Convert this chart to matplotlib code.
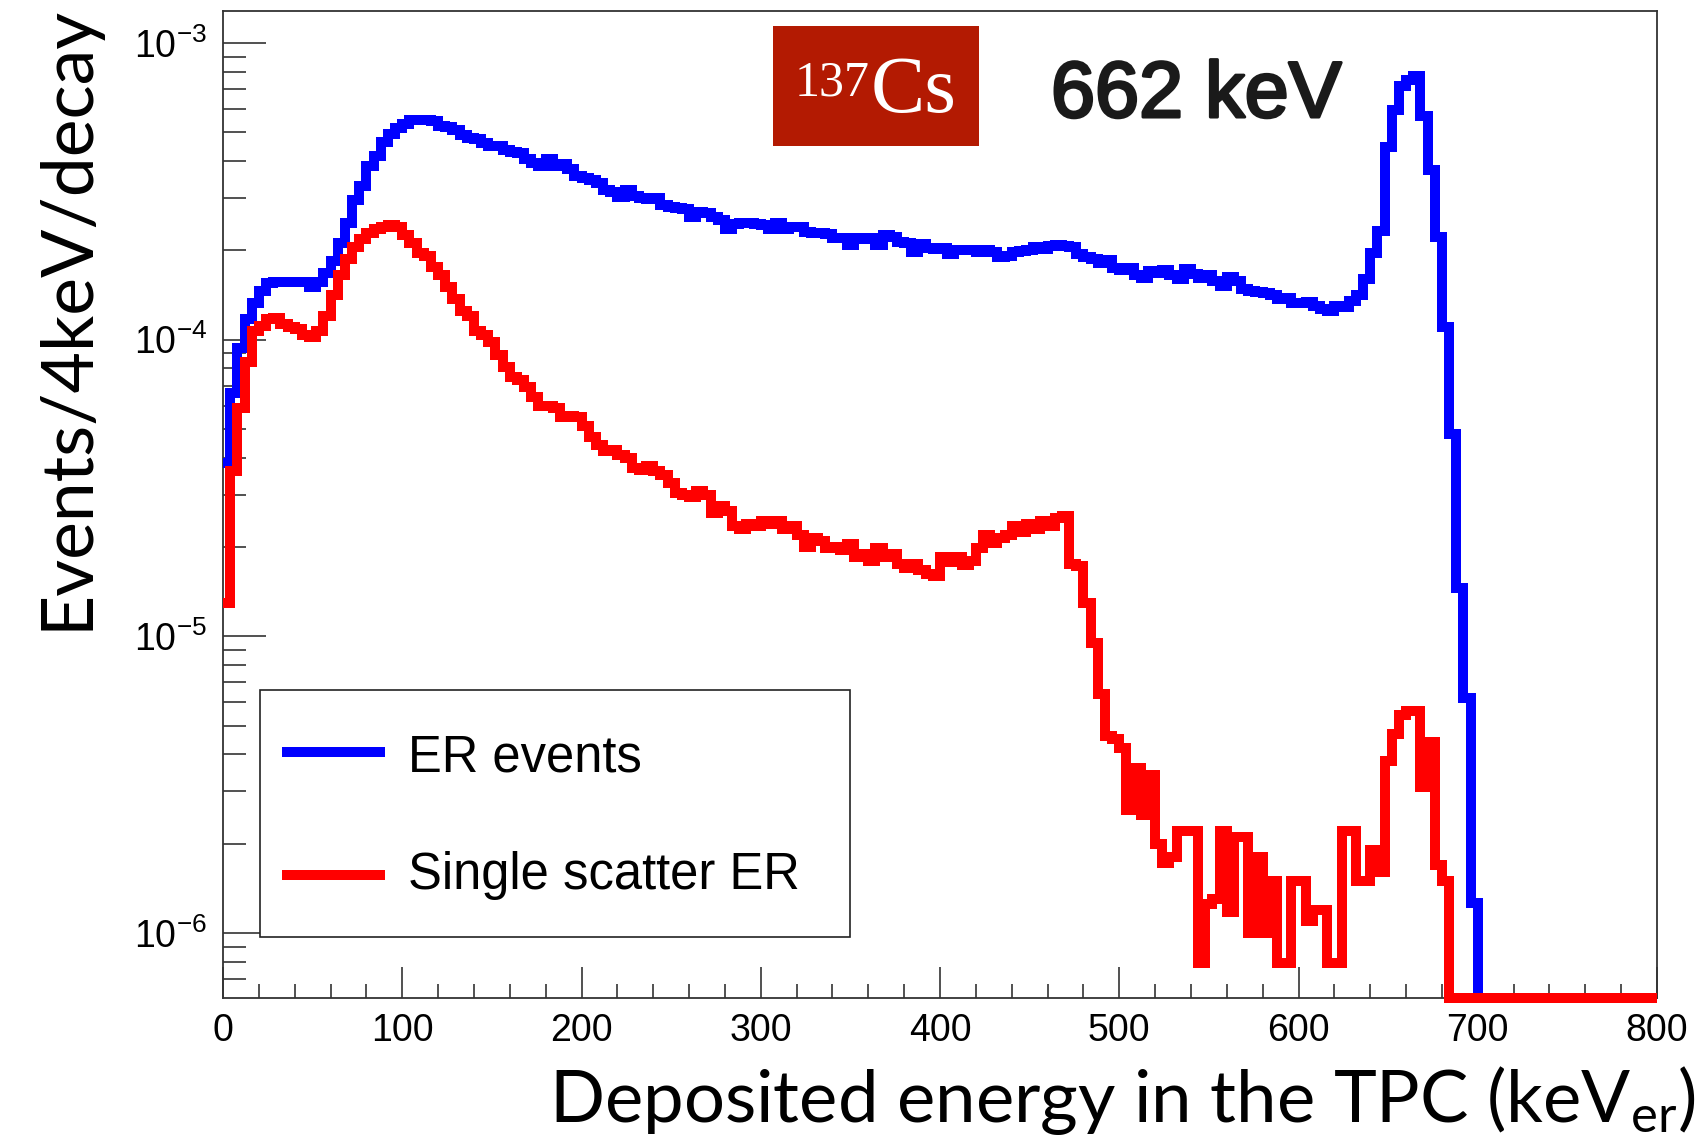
import numpy as np
import matplotlib
matplotlib.use("Agg")
import matplotlib.pyplot as plt
import matplotlib.patheffects as pe
from matplotlib.patches import Rectangle
from matplotlib.lines import Line2D
from matplotlib.ticker import MultipleLocator, LogLocator, NullFormatter, FixedLocator, FixedFormatter

W, H = 1702, 1135

# histogram binning (4 keV bins, 0-800 keV)
bin_edges = np.arange(0, 804, 4)

# ER events, in units of 1e-6 events/4keV/decay
er_events = [
    38.5, 66, 94, 117, 133, 146, 155, 156, 157, 156,
    157, 156, 150, 156, 168, 184, 212, 248, 295, 330,
    386, 417, 464, 493, 517, 533, 550, 552, 550, 548,
    525, 520, 510, 490, 480, 475, 460, 450, 450, 435,
    430, 425, 405, 395, 385, 405, 385, 390, 375, 355,
    350, 345, 337, 320, 315, 303, 320, 305, 300, 298,
    300, 285, 280, 278, 275, 260, 270, 267, 260, 254,
    237, 245, 247, 248, 245, 244, 236, 247, 236, 240,
    240, 230, 229, 228, 227, 220, 220, 208, 220, 218,
    220, 208, 225, 222, 214, 212, 198, 210, 203, 202,
    204, 195, 200, 201, 200, 198, 200, 197, 190, 192,
    197, 199, 200, 205, 202, 207, 208, 207, 205, 195,
    190, 187, 182, 185, 175, 172, 174, 165, 162, 170,
    168, 172, 165, 160, 173, 166, 162, 165, 158, 152,
    163, 158, 148, 146, 145, 144, 142, 137, 138, 133,
    133, 134, 130, 127, 125, 130, 129, 135, 142, 160,
    196, 232, 447, 594, 716, 750, 777, 569, 373, 222,
    110, 48, 14.5, 6.2, 1.26,
] + [0] * 25

# single scatter ER, in units of 1e-6 events/4keV/decay
single_scatter = [
    13, 36, 59, 84, 107, 111, 117, 118, 113, 110,
    109, 104, 102, 107, 120, 141, 165, 187, 205, 218,
    228, 236, 240, 243, 240, 225, 212, 196, 192, 176,
    165, 150, 137, 125, 120, 107, 104, 98, 89, 81,
    75, 73, 69, 64, 60, 60, 59, 55, 55.5, 55,
    51, 47, 44, 42, 42.5, 41, 40, 37, 36.5, 37.5,
    36, 35, 33, 30.5, 30, 29.5, 31, 30, 26, 27.5,
    26.5, 23.5, 23, 24, 23.5, 24.5, 24, 24.5, 23, 23.5,
    22, 20, 21.5, 21, 19.8, 20, 19.5, 20.5, 18.5, 19,
    18, 19.8, 18.5, 19, 17.5, 17, 17.5, 16.8, 16.2, 16,
    18.5, 17.8, 18.5, 17.4, 18, 19.9, 22, 20.7, 21.5, 22,
    23.5, 22.5, 24, 23, 24.5, 23.5, 25, 25.5, 17.5, 17.2,
    13, 9.5, 6.4, 4.6, 4.5, 4.2, 2.6, 3.6, 2.5, 3.4,
    2.0, 1.72, 1.8, 2.2, 2.2, 2.2, 0.79, 1.25, 1.3, 2.2,
    1.18, 2.1, 2.1, 1.0, 1.8, 1.0, 1.5, 0.79, 0.79, 1.5,
    1.5, 1.1, 1.2, 1.2, 0.79, 0.79, 2.2, 2.2, 1.5, 1.5,
    1.9, 1.6, 3.8, 4.7, 5.45, 5.6, 5.6, 3.1, 4.4, 1.7,
    1.5,
] + [0] * 29

legend_labels = ["ER events", "Single scatter ER"]
x_ticks = [0, 100, 200, 300, 400, 500, 600, 700, 800]
y_ticks = [1e-6, 1e-5, 1e-4, 1e-3]
y_tick_labels = [r"$\mathregular{10^{-6}}$", r"$\mathregular{10^{-5}}$",
                 r"$\mathregular{10^{-4}}$", r"$\mathregular{10^{-3}}$"]

y_min, y_max = 6.04e-7, 1.282e-3


def fx(px):
    return px / W


def fy(py):
    return 1 - py / H


fig = plt.figure(figsize=(W / 100, H / 100), dpi=100)
ax = fig.add_axes([fx(223), fy(998), (1657 - 223) / W, (998 - 11) / H])

lw = 7.2  # ~10 px
blue = np.array(er_events) * 1e-6
red = np.array(single_scatter) * 1e-6
# empty bins are drawn on the lower frame, like ROOT does on a log axis
blue = np.where(blue > 0, blue, y_min)
red = np.where(red > 0, red, y_min)

ax.stairs(blue, bin_edges, baseline=None, color="#0000ff", linewidth=lw,
          clip_on=False, zorder=3)
ax.stairs(red, bin_edges, baseline=None, color="#ff0000", linewidth=lw,
          clip_on=False, zorder=4)

ax.set_yscale("log")
ax.set_xlim(0, 800)
ax.set_ylim(y_min, y_max)

tick_font = {"family": "Liberation Sans", "size": 27}
ax.xaxis.set_major_locator(FixedLocator(x_ticks))
ax.xaxis.set_minor_locator(MultipleLocator(20))
ax.set_xticklabels([str(t) for t in x_ticks], fontdict=tick_font)
ax.yaxis.set_major_locator(FixedLocator(y_ticks))
ax.yaxis.set_major_formatter(FixedFormatter(y_tick_labels))
ax.yaxis.set_minor_locator(LogLocator(base=10, subs=np.arange(2, 10), numticks=20))
ax.yaxis.set_minor_formatter(NullFormatter())
for lab in ax.get_yticklabels():
    lab.set_fontfamily("Liberation Sans")
    lab.set_fontsize(27)

ax.tick_params(axis="x", which="major", direction="in", length=22.3, width=1.1,
               pad=10.5, colors="#222222", top=False)
ax.tick_params(axis="x", which="minor", direction="in", length=10, width=1.1,
               colors="#222222", top=False)
ax.tick_params(axis="y", which="major", direction="in", length=31, width=1.1,
               pad=11.5, colors="#222222", right=False)
ax.tick_params(axis="y", which="minor", direction="in", length=16.6, width=1.1,
               colors="#222222", right=False)
ax.tick_params(labelcolor="black")
for sp in ax.spines.values():
    sp.set_linewidth(1.3)
    sp.set_color("#333333")

# legend box
fig.add_artist(Rectangle((fx(260), fy(937)), (850 - 260) / W, (937 - 690) / H,
                         transform=fig.transFigure, facecolor="white",
                         edgecolor="#222222", linewidth=1.2, zorder=5))
for col, ly, lby, lab in [("#0000ff", 752, 771, legend_labels[0]),
                          ("#ff0000", 875, 889, legend_labels[1])]:
    fig.add_artist(Line2D([fx(282), fx(385)], [fy(ly), fy(ly)], color=col,
                          linewidth=lw, solid_capstyle="butt",
                          transform=fig.transFigure, zorder=6))
    fig.text(fx(408), fy(lby), lab, family="Liberation Sans", fontsize=36.5,
             ha="left", va="baseline", zorder=6)

# source label
fig.add_artist(Rectangle((fx(773), fy(146)), (979 - 773) / W, (146 - 26) / H,
                         transform=fig.transFigure, facecolor="#b31a02",
                         edgecolor="none", zorder=5))
fig.text(fx(795), fy(95), "137", family="Liberation Serif", fontsize=36,
         color="white", ha="left", va="baseline", zorder=6)
fig.text(fx(871), fy(112), "Cs", family="Liberation Serif", fontsize=58.5,
         color="white", ha="left", va="baseline", zorder=6)
fig.text(fx(1051), fy(117), "662 keV", family="Liberation Sans",
         fontsize=57, color="#1a1a1a", ha="left", va="baseline", zorder=6,
         path_effects=[pe.withStroke(linewidth=2.2, foreground="#1a1a1a")])

# axis titles
fig.text(fx(1696), fy(1122), r"Deposited energy in the TPC (keV$\mathregular{_{er}}$)",
         family="Lato", fontsize=52.2, ha="right", va="baseline")
fig.text(fx(87), fy(630), "Events/4keV/decay", family="Lato", fontsize=51.5,
         rotation=90, rotation_mode="anchor", ha="left", va="baseline")

fig.savefig("out.png", dpi=100)
